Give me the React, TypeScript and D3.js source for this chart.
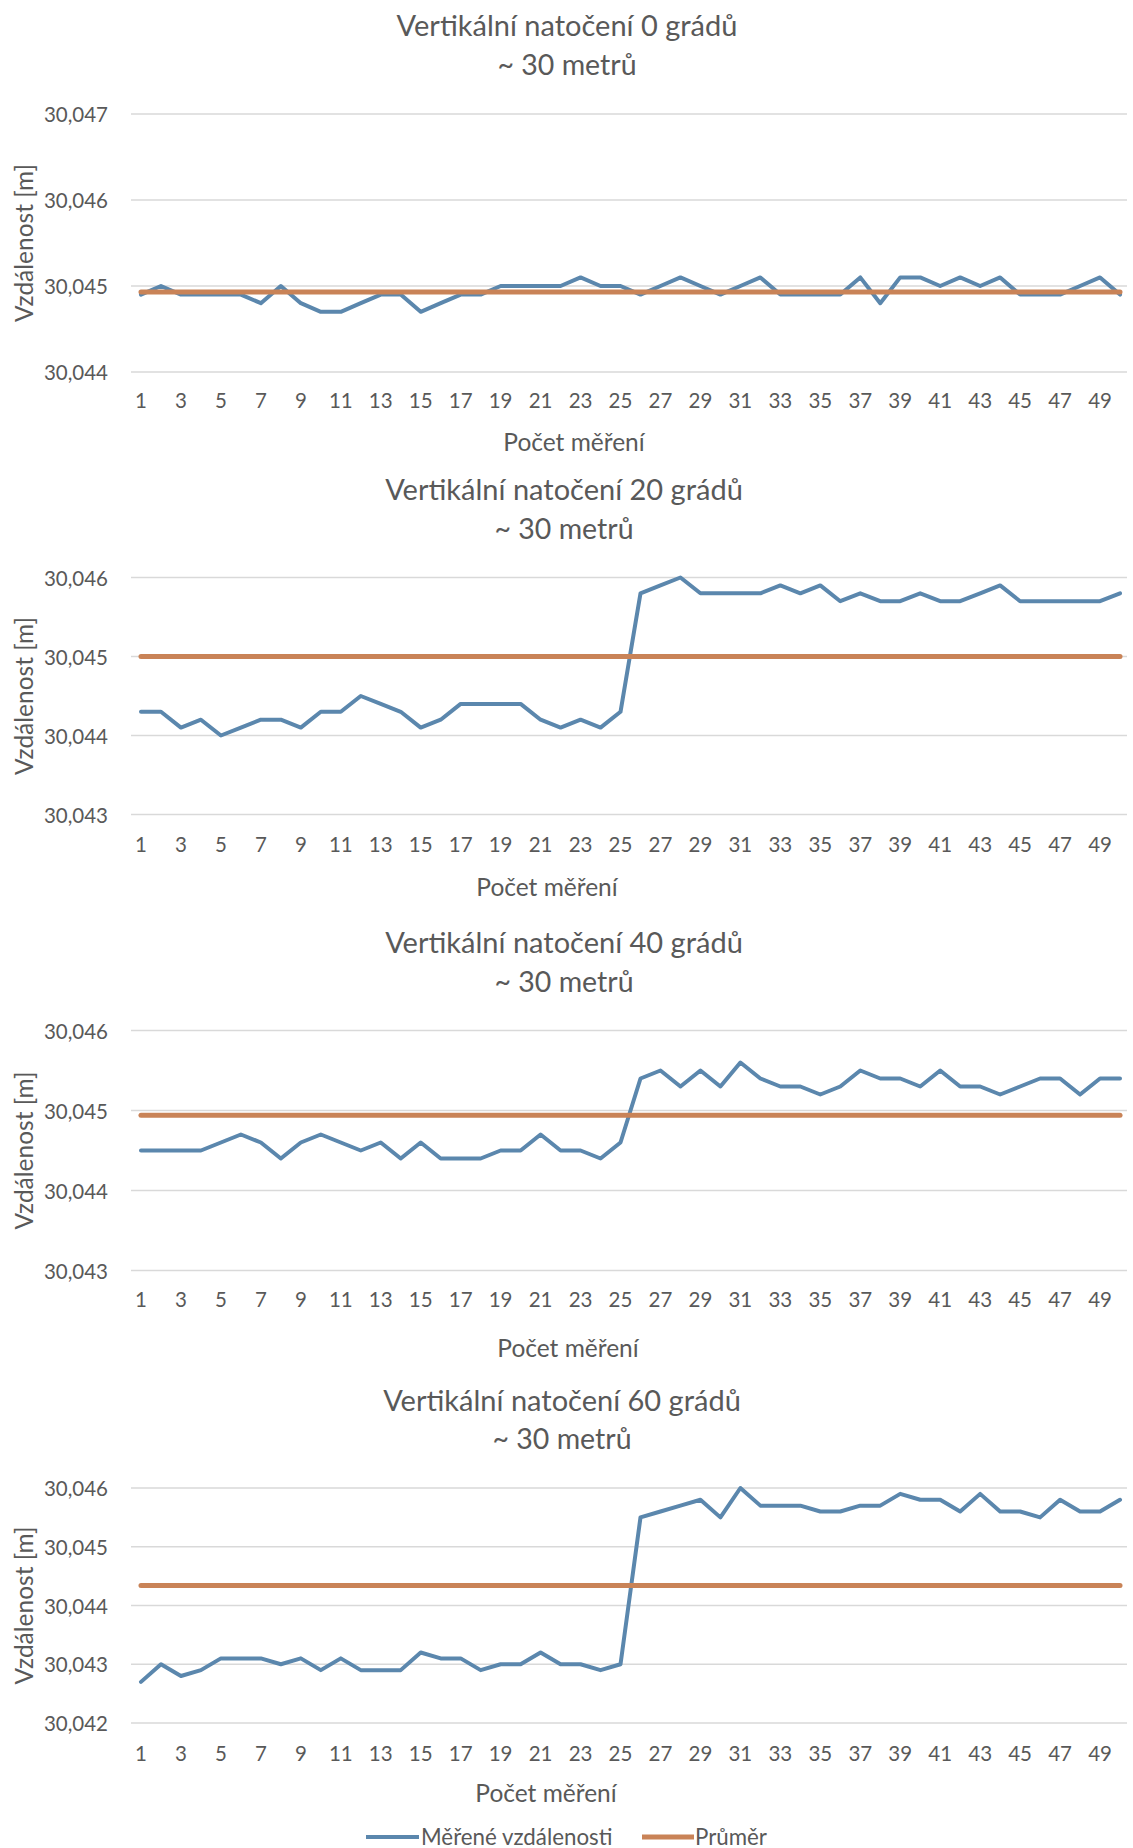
import React from "react";
import * as d3 from "d3";

// ---------- DATA ----------
const categories: number[] = d3.range(1, 51);

const titles: string[] = [
  "Vertikální natočení 0 grádů",
  "Vertikální natočení 20 grádů",
  "Vertikální natočení 40 grádů",
  "Vertikální natočení 60 grádů",
];
const subtitle = "~ 30 metrů";
const yAxisTitle = "Vzdálenost [m]";
const xAxisTitle = "Počet měření";
const seriesNames: string[] = ["Měřené vzdálenosti", "Průměr"];

const values0: number[] = [
  30.0449, 30.045, 30.0449, 30.0449, 30.0449, 30.0449, 30.0448, 30.045, 30.0448, 30.0447,
  30.0447, 30.0448, 30.0449, 30.0449, 30.0447, 30.0448, 30.0449, 30.0449, 30.045, 30.045,
  30.045, 30.045, 30.0451, 30.045, 30.045, 30.0449, 30.045, 30.0451, 30.045, 30.0449,
  30.045, 30.0451, 30.0449, 30.0449, 30.0449, 30.0449, 30.0451, 30.0448, 30.0451, 30.0451,
  30.045, 30.0451, 30.045, 30.0451, 30.0449, 30.0449, 30.0449, 30.045, 30.0451, 30.0449,
];
const values20: number[] = [
  30.0443, 30.0443, 30.0441, 30.0442, 30.044, 30.0441, 30.0442, 30.0442, 30.0441, 30.0443,
  30.0443, 30.0445, 30.0444, 30.0443, 30.0441, 30.0442, 30.0444, 30.0444, 30.0444, 30.0444,
  30.0442, 30.0441, 30.0442, 30.0441, 30.0443, 30.0458, 30.0459, 30.046, 30.0458, 30.0458,
  30.0458, 30.0458, 30.0459, 30.0458, 30.0459, 30.0457, 30.0458, 30.0457, 30.0457, 30.0458,
  30.0457, 30.0457, 30.0458, 30.0459, 30.0457, 30.0457, 30.0457, 30.0457, 30.0457, 30.0458,
];
const values40: number[] = [
  30.0445, 30.0445, 30.0445, 30.0445, 30.0446, 30.0447, 30.0446, 30.0444, 30.0446, 30.0447,
  30.0446, 30.0445, 30.0446, 30.0444, 30.0446, 30.0444, 30.0444, 30.0444, 30.0445, 30.0445,
  30.0447, 30.0445, 30.0445, 30.0444, 30.0446, 30.0454, 30.0455, 30.0453, 30.0455, 30.0453,
  30.0456, 30.0454, 30.0453, 30.0453, 30.0452, 30.0453, 30.0455, 30.0454, 30.0454, 30.0453,
  30.0455, 30.0453, 30.0453, 30.0452, 30.0453, 30.0454, 30.0454, 30.0452, 30.0454, 30.0454,
];
const values60: number[] = [
  30.0427, 30.043, 30.0428, 30.0429, 30.0431, 30.0431, 30.0431, 30.043, 30.0431, 30.0429,
  30.0431, 30.0429, 30.0429, 30.0429, 30.0432, 30.0431, 30.0431, 30.0429, 30.043, 30.043,
  30.0432, 30.043, 30.043, 30.0429, 30.043, 30.0455, 30.0456, 30.0457, 30.0458, 30.0455,
  30.046, 30.0457, 30.0457, 30.0457, 30.0456, 30.0456, 30.0457, 30.0457, 30.0459, 30.0458,
  30.0458, 30.0456, 30.0459, 30.0456, 30.0456, 30.0455, 30.0458, 30.0456, 30.0456, 30.0458,
];
const means: number[] = [30.04493, 30.045, 30.04494, 30.04434];

const yTicks0: number[] = [30.044, 30.045, 30.046, 30.047];
const yTicks20: number[] = [30.043, 30.044, 30.045, 30.046];
const yTicks40: number[] = [30.043, 30.044, 30.045, 30.046];
const yTicks60: number[] = [30.042, 30.043, 30.044, 30.045, 30.046];

// ---------- LAYOUT / STYLE ----------
const W = 1133;
const H = 1848;
const FONT = "Lato, 'Open Sans', sans-serif";
const TEXT = "#595959";
const GRID = "#d9d9d9";
const BLUE = "#5b87ad";
const ORANGE = "#c98357";

const layouts = [
  { top: 114, bottom: 372, t1: 24, t2: 64, tx: 567, xl: 400, xt: 441, xtx: 574 },
  { top: 577.5, bottom: 814.5, t1: 488, t2: 528, tx: 564, xl: 844, xt: 886, xtx: 547 },
  { top: 1030.5, bottom: 1270.5, t1: 941, t2: 981, tx: 564, xl: 1299, xt: 1347, xtx: 568 },
  { top: 1488, bottom: 1723, t1: 1399.5, t2: 1438, tx: 562, xl: 1753, xt: 1792, xtx: 546 },
];

const seriesList = [values0, values20, values40, values60];
const tickList = [yTicks0, yTicks20, yTicks40, yTicks60];

const locale = d3.formatLocale({ decimal: ",", thousands: " ", grouping: [3], currency: ["", ""] });
const fmt = locale.format(".3f");

const xScale = d3.scaleBand<number>().domain(categories).range([131, 1130]);
const cx = (c: number) => (xScale(c) as number) + xScale.bandwidth() / 2;

function Chart({ idx }: { idx: number }) {
  const L = layouts[idx];
  const ticks = tickList[idx];
  const vals = seriesList[idx];
  const y = d3
    .scaleLinear()
    .domain([ticks[0], ticks[ticks.length - 1]])
    .range([L.bottom, L.top]);
  const line = d3
    .line<number>()
    .x((_, i) => cx(categories[i]))
    .y((v) => y(v));
  const meanVals = categories.map(() => means[idx]);
  const [x0, x1] = xScale.range();
  return (
    <g>
      <text x={L.tx} y={L.t1} textAnchor="middle" dominantBaseline="central" fontSize={29} fill={TEXT}>
        {titles[idx]}
      </text>
      <text x={L.tx} y={L.t2} textAnchor="middle" dominantBaseline="central" fontSize={28.5} fill={TEXT}>
        {subtitle}
      </text>
      {ticks.map((t) => (
        <g key={t}>
          <line x1={x0} x2={x1 - 3} y1={y(t)} y2={y(t)} stroke={GRID} strokeWidth={1.5} />
          <text x={108} y={y(t)} textAnchor="end" dominantBaseline="central" fontSize={20.5} fill={TEXT}>
            {fmt(t)}
          </text>
        </g>
      ))}
      {categories
        .filter((c) => c % 2 === 1)
        .map((c) => (
          <text key={c} x={cx(c)} y={L.xl} textAnchor="middle" dominantBaseline="central" fontSize={20.5} fill={TEXT}>
            {c}
          </text>
        ))}
      <text
        transform={`translate(23,${(L.top + L.bottom) / 2}) rotate(-90)`}
        textAnchor="middle"
        dominantBaseline="central"
        fontSize={24.5}
        fill={TEXT}
      >
        {yAxisTitle}
      </text>
      <text x={L.xtx} y={L.xt} textAnchor="middle" dominantBaseline="central" fontSize={24.5} fill={TEXT}>
        {xAxisTitle}
      </text>
      <path d={line(vals) || ""} fill="none" stroke={BLUE} strokeWidth={4} strokeLinejoin="round" strokeLinecap="round" />
      <path d={line(meanVals) || ""} fill="none" stroke={ORANGE} strokeWidth={5} strokeLinecap="round" />
    </g>
  );
}

export default function App() {
  return (
    <svg
      width={W}
      height={H}
      style={{ position: "absolute", left: 0, top: 0, background: "#fff" }}
      fontFamily={FONT}
    >
      <rect x={0} y={0} width={W} height={H} fill="#fff" />
      {layouts.map((_, i) => (
        <Chart key={i} idx={i} />
      ))}
      <g>
        <line x1={366} x2={419} y1={1837} y2={1837} stroke={BLUE} strokeWidth={4} />
        <text x={421} y={1836} dominantBaseline="central" fontSize={22.3} fill={TEXT}>
          {seriesNames[0]}
        </text>
        <line x1={642} x2={694} y1={1837} y2={1837} stroke={ORANGE} strokeWidth={5} />
        <text x={695} y={1836} dominantBaseline="central" fontSize={22.3} fill={TEXT}>
          {seriesNames[1]}
        </text>
      </g>
    </svg>
  );
}
